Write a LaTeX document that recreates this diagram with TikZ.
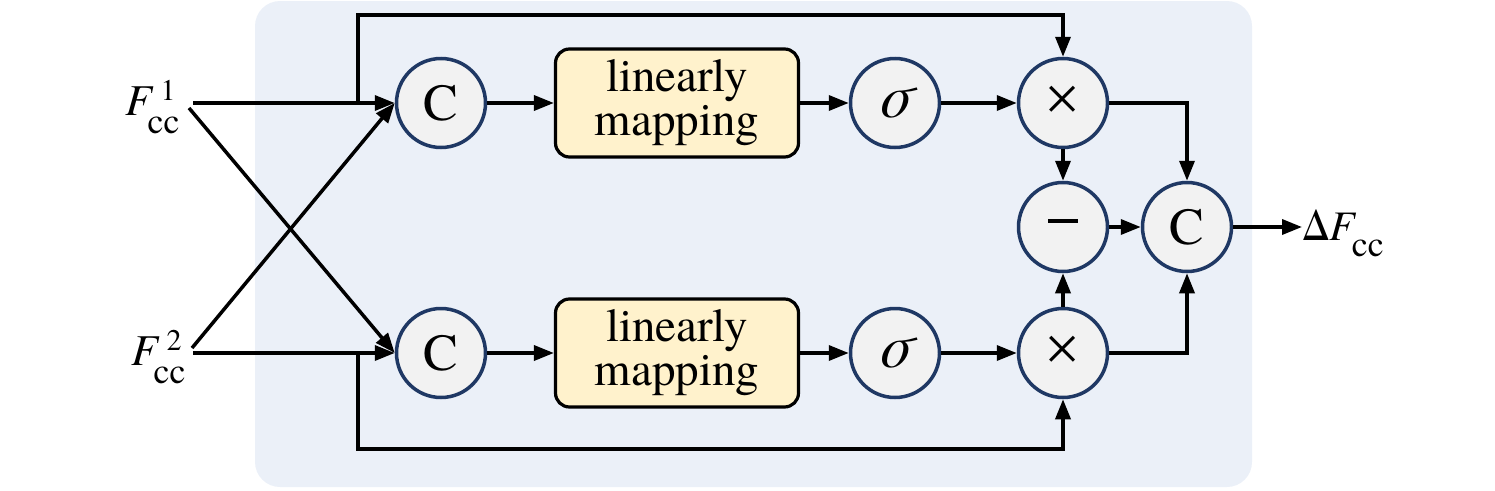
\documentclass[tikz,border=0pt]{standalone}
\usepackage{fontspec}
\setmainfont{TeX Gyre Termes}
\newfontfamily\symfont{Liberation Serif}
\usetikzlibrary{arrows.meta}
\definecolor{bgblue}{HTML}{EBF0F8}
\definecolor{navy}{HTML}{1F3864}
\definecolor{circfill}{HTML}{F2F2F2}
\definecolor{boxfill}{HTML}{FFF2CC}
\newcommand{\Fcc}[1]{\textit{F}\kern-6pt\rlap{\kern13pt\raisebox{15pt}{\fontsize{30}{30}\selectfont #1}}\raisebox{-18pt}{\fontsize{36}{36}\selectfont cc}}
\begin{document}
\begin{tikzpicture}[x=1pt,y=-1pt,
  op/.style={circle, draw=navy, line width=3.5pt, fill=circfill, minimum size=89pt, inner sep=0pt, font=\fontsize{52}{52}\selectfont},
  mapbox/.style={draw=black, line width=3.2pt, fill=boxfill, rounded corners=14pt, minimum width=243pt, minimum height=108pt, align=center, inner sep=0pt, font=\fontsize{47}{44}\selectfont},
  conn/.style={line width=3.5pt, -{Triangle[length=20pt,width=15pt]}},
  lbl/.style={inner sep=0pt, font=\fontsize{44}{48}\selectfont}
]
\useasboundingbox (0,0) rectangle (1495,490);
\fill[bgblue, rounded corners=25pt] (255,1) rectangle (1252,487);

\node[op] (c1) at (441,103) {C};
\node[op] (c2) at (441,353) {C};
\node[mapbox] (m1) at (677,103) {linearly\\mapping};
\node[mapbox] (m2) at (677,353) {linearly\\mapping};
\node[op, font=\fontsize{60}{60}\selectfont] (s1) at (895,103) {\itshape σ};
\node[op, font=\fontsize{60}{60}\selectfont] (s2) at (895,353) {\itshape σ};
\node[op, font=\fontsize{64}{64}\selectfont] (t1) at (1063,103) {\symfont ×};
\node[op, font=\fontsize{64}{64}\selectfont] (t2) at (1063,353) {\symfont ×};
\node[op] (mi) at (1063,227) {\rule[12pt]{30pt}{4.5pt}};
\node[op] (c3) at (1187,227) {C};

\node[lbl, anchor=base west] (f1) at (125,115) {\Fcc{1}};
\node[lbl, anchor=base west] (f2) at (131,365) {\Fcc{2}};
\node[lbl, anchor=base west, font=\fontsize{42}{46}\selectfont] (out) at (1302,240) {Δ\textit{F}\kern-5pt\raisebox{-16pt}{\fontsize{36}{36}\selectfont cc}};

\coordinate (f1o) at (193,103);
\coordinate (f1d) at (189,108);
\coordinate (f2o) at (193,353);
\coordinate (f2d) at (192,348);
\coordinate (b1) at (358,103);
\coordinate (b2) at (358,353);

\draw[conn] (f1o) -- (c1.west);
\draw[conn] (f2o) -- (c2.west);
\draw[conn] (f1d) -- (c2.west);
\draw[conn] (f2d) -- (c1.west);
\draw[conn] (b1) -- (358,15) -| (t1.north);
\draw[conn] (b2) -- (358,449) -| (t2.south);

\draw[conn] (c1) -- (m1);
\draw[conn] (c2) -- (m2);
\draw[conn] (m1) -- (s1);
\draw[conn] (m2) -- (s2);
\draw[conn] (s1) -- (t1);
\draw[conn] (s2) -- (t2);
\draw[conn] (t1) -- (mi);
\draw[conn] (t2) -- (mi);
\draw[conn] (mi) -- (c3);
\draw[conn] (t1.east) -| (c3.north);
\draw[conn] (t2.east) -| (c3.south);
\draw[conn] (c3.east) -- (out.west |- c3.east);
\end{tikzpicture}
\end{document}
